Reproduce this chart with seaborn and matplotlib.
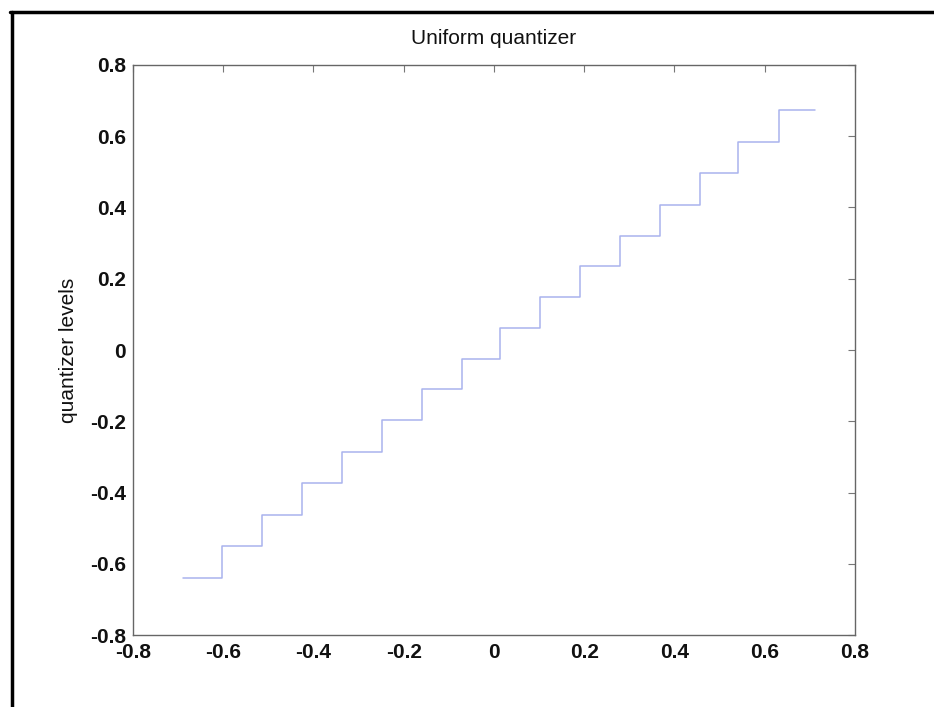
import matplotlib
matplotlib.use("Agg")
import matplotlib.pyplot as plt
import seaborn as sns
import pandas as pd
from matplotlib.lines import Line2D

# Staircase data
x_edges = [-0.689, -0.603, -0.514, -0.425, -0.337, -0.248, -0.160, -0.071,
           0.013, 0.102, 0.191, 0.279, 0.368, 0.456, 0.541, 0.632, 0.711]
levels = [-0.640, -0.550, -0.463, -0.373, -0.286, -0.196, -0.109, -0.025,
          0.062, 0.149, 0.236, 0.320, 0.407, 0.497, 0.584, 0.674]
ticks = [-0.8, -0.6, -0.4, -0.2, 0, 0.2, 0.4, 0.6, 0.8]
tick_labels = ["-0.8", "-0.6", "-0.4", "-0.2", "0", "0.2", "0.4", "0.6", "0.8"]

sns.set_style("white")
plt.rcParams["font.family"] = ["Liberation Sans", "DejaVu Sans"]

df = pd.DataFrame({"x": x_edges, "y": levels + [levels[-1]]})

fig = plt.figure(figsize=(9.34, 7.07), dpi=100)
ax = fig.add_axes([0.1424, 0.1018, 0.7730, 0.8063])

sns.lineplot(data=df, x="x", y="y", ax=ax, drawstyle="steps-post",
             color="#a9b3ee", linewidth=1.1)

ax.set_xlim(-0.8, 0.8)
ax.set_ylim(-0.8, 0.8)
ax.set_xticks(ticks)
ax.set_xticklabels(tick_labels)
ax.set_yticks(ticks)
ax.set_yticklabels(tick_labels)
ax.tick_params(direction="in", length=5, width=0.8, color="#777777",
               top=True, right=True, labelsize=15)
ax.tick_params(axis="x", pad=6)
ax.tick_params(axis="y", pad=5)
for lab in ax.get_xticklabels() + ax.get_yticklabels():
    lab.set_fontweight("bold")
    lab.set_color("#111111")
for s in ax.spines.values():
    s.set_visible(True)
    s.set_color("#666666")
    s.set_linewidth(1.0)

ax.set_xlabel("")
ax.set_ylabel("quantizer levels", fontsize=15, labelpad=9, color="#111111")
ax.set_title("Uniform quantizer", fontsize=15, pad=15, color="#111111")

# scan border (left and top)
fig.add_artist(Line2D([0.0125, 0.0125], [0.0, 0.983], transform=fig.transFigure,
                      color="black", linewidth=2.5))
fig.add_artist(Line2D([0.011, 1.0], [0.983, 0.983], transform=fig.transFigure,
                      color="black", linewidth=2.5))

fig.savefig("out.png", dpi=100)
